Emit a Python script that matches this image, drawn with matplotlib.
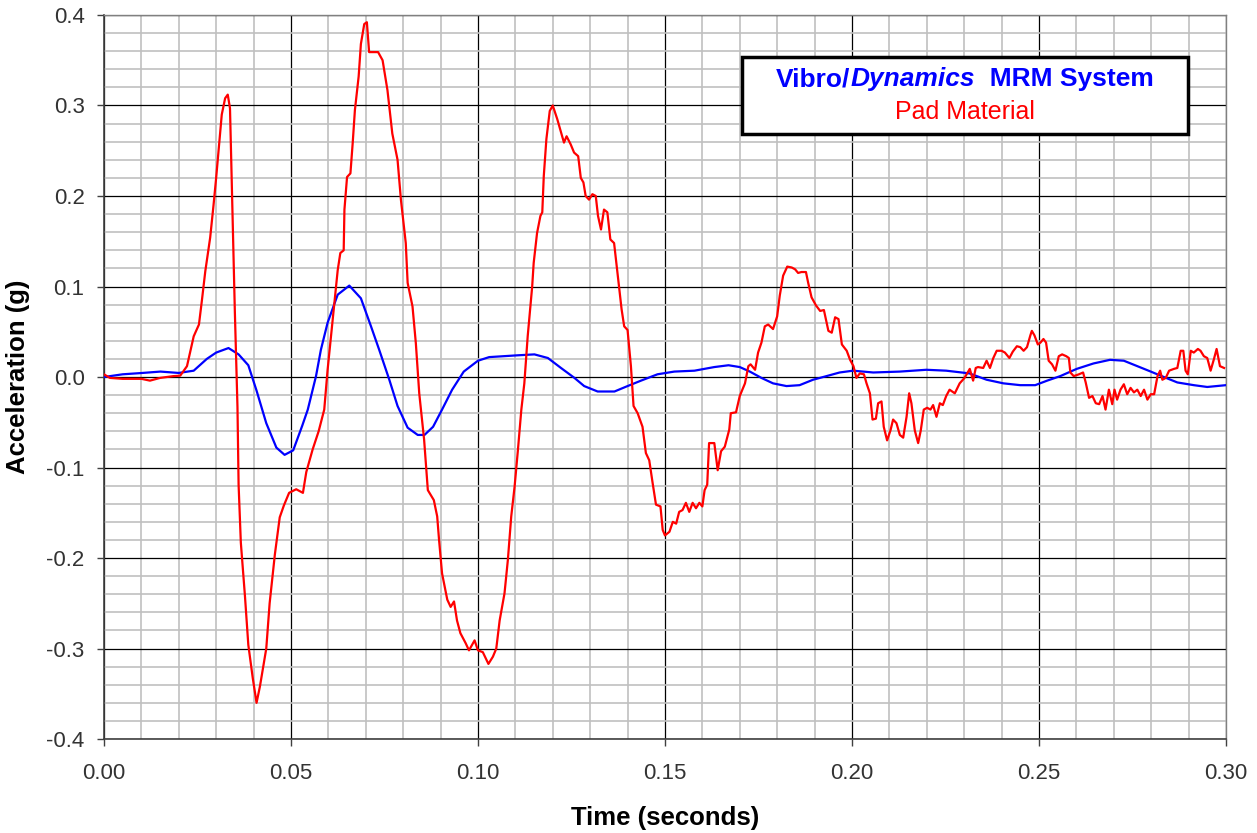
import matplotlib
matplotlib.use("Agg")
import matplotlib.pyplot as plt
from matplotlib.ticker import MultipleLocator, FormatStrFormatter
from matplotlib.offsetbox import TextArea, HPacker, VPacker, AnnotationBbox
from matplotlib.patches import Rectangle

plt.rcParams['font.family'] = ['Liberation Sans', 'DejaVu Sans']
plt.rcParams['axes.unicode_minus'] = False

# Pad Material response (red)
pad_time = [0.0000, 0.0016, 0.0050, 0.0100, 0.0123, 0.0150, 0.0186, 0.0204, 0.0222, 0.0240,
            0.0254, 0.0262, 0.0271, 0.0284, 0.0293, 0.0300, 0.0308, 0.0315, 0.0324, 0.0331,
            0.0337, 0.0344, 0.0350, 0.0357, 0.0360, 0.0366, 0.0377, 0.0386, 0.0398, 0.0408,
            0.0417, 0.0434, 0.0443, 0.0457, 0.0470, 0.0481, 0.0495, 0.0514, 0.0532, 0.0541,
            0.0558, 0.0574, 0.0589, 0.0598, 0.0607, 0.0616, 0.0625, 0.0632, 0.0641, 0.0643,
            0.0650, 0.0659, 0.0665, 0.0671, 0.0681, 0.0687, 0.0696, 0.0703, 0.0709, 0.0733,
            0.0745, 0.0758, 0.0771, 0.0785, 0.0794, 0.0807, 0.0812, 0.0825, 0.0834, 0.0843,
            0.0856, 0.0866, 0.0882, 0.0891, 0.0896, 0.0904, 0.0918, 0.0927, 0.0936, 0.0944,
            0.0953, 0.0967, 0.0976, 0.0991, 0.1000, 0.1013, 0.1028, 0.1040, 0.1049, 0.1058,
            0.1071, 0.1080, 0.1089, 0.1098, 0.1107, 0.1116, 0.1124, 0.1133, 0.1145, 0.1149,
            0.1158, 0.1167, 0.1172, 0.1176, 0.1183, 0.1192, 0.1200, 0.1212, 0.1221, 0.1230,
            0.1237, 0.1248, 0.1257, 0.1268, 0.1275, 0.1282, 0.1288, 0.1297, 0.1306, 0.1315,
            0.1321, 0.1329, 0.1337, 0.1346, 0.1354, 0.1364, 0.1371, 0.1378, 0.1384, 0.1391,
            0.1400, 0.1409, 0.1416, 0.1427, 0.1440, 0.1449, 0.1458, 0.1467, 0.1476, 0.1488,
            0.1494, 0.1500, 0.1512, 0.1521, 0.1530, 0.1538, 0.1547, 0.1556, 0.1565, 0.1574,
            0.1583, 0.1592, 0.1600, 0.1606, 0.1613, 0.1618, 0.1632, 0.1641, 0.1650, 0.1660,
            0.1672, 0.1676, 0.1690, 0.1700, 0.1714, 0.1723, 0.1729, 0.1741, 0.1749, 0.1758,
            0.1767, 0.1776, 0.1789, 0.1800, 0.1807, 0.1816, 0.1827, 0.1839, 0.1848, 0.1856,
            0.1865, 0.1877, 0.1883, 0.1892, 0.1904, 0.1915, 0.1925, 0.1937, 0.1946, 0.1955,
            0.1964, 0.1973, 0.1986, 0.1995, 0.2004, 0.2012, 0.2021, 0.2032, 0.2039, 0.2048,
            0.2055, 0.2064, 0.2070, 0.2079, 0.2085, 0.2094, 0.2103, 0.2110, 0.2119, 0.2128,
            0.2137, 0.2146, 0.2153, 0.2159, 0.2168, 0.2177, 0.2184, 0.2192, 0.2201, 0.2210,
            0.2217, 0.2226, 0.2235, 0.2243, 0.2252, 0.2261, 0.2275, 0.2288, 0.2301, 0.2315,
            0.2324, 0.2331, 0.2337, 0.2351, 0.2360, 0.2369, 0.2378, 0.2387, 0.2400, 0.2409,
            0.2421, 0.2430, 0.2441, 0.2450, 0.2459, 0.2468, 0.2477, 0.2481, 0.2488, 0.2497,
            0.2504, 0.2512, 0.2519, 0.2526, 0.2535, 0.2544, 0.2553, 0.2562, 0.2573, 0.2580,
            0.2584, 0.2593, 0.2607, 0.2618, 0.2625, 0.2634, 0.2643, 0.2652, 0.2661, 0.2670,
            0.2678, 0.2687, 0.2696, 0.2702, 0.2709, 0.2718, 0.2727, 0.2736, 0.2745, 0.2754,
            0.2763, 0.2772, 0.2781, 0.2790, 0.2799, 0.2808, 0.2817, 0.2824, 0.2830, 0.2839,
            0.2848, 0.2861, 0.2870, 0.2879, 0.2886, 0.2892, 0.2898, 0.2906, 0.2914, 0.2925,
            0.2932, 0.2941, 0.2950, 0.2959, 0.2968, 0.2975, 0.2984, 0.2995]
pad_accel = [0.003, -0.001, -0.002, -0.002, -0.004, -0.001, 0.001, 0.0015, 0.012, 0.045,
             0.058, 0.085, 0.117, 0.154, 0.190, 0.220, 0.258, 0.290, 0.308, 0.312,
             0.297, 0.176, 0.072, -0.033, -0.119, -0.183, -0.242, -0.296, -0.333, -0.360,
             -0.342, -0.300, -0.250, -0.196, -0.155, -0.142, -0.128, -0.124, -0.128, -0.105,
             -0.080, -0.060, -0.036, 0.008, 0.045, 0.082, 0.118, 0.137, 0.140, 0.185,
             0.221, 0.225, 0.258, 0.295, 0.332, 0.368, 0.390, 0.392, 0.359, 0.359,
             0.350, 0.317, 0.269, 0.240, 0.196, 0.148, 0.104, 0.078, 0.037, -0.018,
             -0.069, -0.125, -0.136, -0.154, -0.180, -0.217, -0.246, -0.254, -0.248, -0.269,
             -0.283, -0.294, -0.302, -0.291, -0.302, -0.304, -0.317, -0.309, -0.300, -0.269,
             -0.239, -0.202, -0.154, -0.121, -0.080, -0.036, -0.007, 0.045, 0.100, 0.126,
             0.159, 0.178, 0.182, 0.222, 0.263, 0.294, 0.300, 0.285, 0.272, 0.259,
             0.266, 0.257, 0.248, 0.244, 0.220, 0.215, 0.200, 0.196, 0.202, 0.200,
             0.178, 0.163, 0.185, 0.182, 0.152, 0.148, 0.123, 0.097, 0.075, 0.056,
             0.052, 0.012, -0.032, -0.040, -0.055, -0.084, -0.092, -0.117, -0.141, -0.143,
             -0.169, -0.175, -0.171, -0.160, -0.162, -0.149, -0.147, -0.139, -0.149, -0.139,
             -0.145, -0.139, -0.143, -0.125, -0.119, -0.073, -0.073, -0.103, -0.082, -0.077,
             -0.058, -0.040, -0.039, -0.021, -0.007, 0.012, 0.014, 0.008, 0.027, 0.038,
             0.056, 0.058, 0.053, 0.067, 0.090, 0.112, 0.122, 0.121, 0.119, 0.115,
             0.116, 0.116, 0.104, 0.088, 0.079, 0.073, 0.074, 0.051, 0.049, 0.066,
             0.064, 0.036, 0.029, 0.019, 0.012, -0.001, 0.004, 0.003, -0.007, -0.018,
             -0.047, -0.046, -0.029, -0.027, -0.055, -0.070, -0.059, -0.047, -0.051, -0.064,
             -0.067, -0.044, -0.018, -0.029, -0.059, -0.073, -0.059, -0.036, -0.034, -0.036,
             -0.031, -0.044, -0.029, -0.031, -0.021, -0.014, -0.018, -0.007, -0.001, 0.009,
             -0.004, 0.010, 0.011, 0.010, 0.018, 0.010, 0.021, 0.029, 0.029, 0.027,
             0.021, 0.028, 0.034, 0.033, 0.029, 0.033, 0.046, 0.051, 0.046, 0.036,
             0.038, 0.042, 0.038, 0.018, 0.014, 0.007, 0.023, 0.025, 0.023, 0.021,
             0.005, 0.001, 0.003, 0.005, -0.006, -0.023, -0.021, -0.029, -0.030, -0.021,
             -0.036, -0.014, -0.030, -0.014, -0.025, -0.014, -0.008, -0.019, -0.012, -0.017,
             -0.014, -0.021, -0.014, -0.025, -0.019, -0.019, 0.001, 0.007, -0.003, -0.001,
             0.007, 0.009, 0.010, 0.029, 0.029, 0.007, 0.003, 0.029, 0.027, 0.031,
             0.029, 0.023, 0.021, 0.007, 0.020, 0.031, 0.012, 0.010]

# Vibro/Dynamics MRM System response (blue)
mrm_time = [0.0000, 0.0050, 0.0100, 0.0151, 0.0200, 0.0240, 0.0275, 0.0300, 0.0333, 0.0360,
            0.0386, 0.0408, 0.0434, 0.0461, 0.0483, 0.0506, 0.0530, 0.0545, 0.0567, 0.0580,
            0.0598, 0.0625, 0.0656, 0.0687, 0.0714, 0.0736, 0.0763, 0.0785, 0.0812, 0.0839,
            0.0857, 0.0880, 0.0904, 0.0931, 0.0962, 0.1000, 0.1030, 0.1107, 0.1151, 0.1187,
            0.1222, 0.1258, 0.1284, 0.1320, 0.1365, 0.1400, 0.1436, 0.1480, 0.1525, 0.1579,
            0.1632, 0.1670, 0.1700, 0.1727, 0.1758, 0.1789, 0.1825, 0.1860, 0.1896, 0.1932,
            0.1967, 0.2003, 0.2057, 0.2128, 0.2199, 0.2252, 0.2314, 0.2360, 0.2405, 0.2450,
            0.2490, 0.2522, 0.2557, 0.2601, 0.2646, 0.2690, 0.2727, 0.2763, 0.2799, 0.2834,
            0.2870, 0.2914, 0.2950, 0.3000]
mrm_accel = [0.000, 0.003, 0.0044, 0.006, 0.0045, 0.007, 0.020, 0.027, 0.032, 0.025,
             0.013, -0.015, -0.051, -0.078, -0.086, -0.081, -0.054, -0.036, 0.001, 0.030,
             0.060, 0.091, 0.101, 0.087, 0.056, 0.030, -0.003, -0.032, -0.056, -0.064,
             -0.064, -0.055, -0.036, -0.014, 0.006, 0.018, 0.022, 0.024, 0.025, 0.021,
             0.010, -0.001, -0.010, -0.016, -0.016, -0.010, -0.004, 0.003, 0.006, 0.007,
             0.011, 0.013, 0.011, 0.006, -0.001, -0.007, -0.010, -0.009, -0.003, 0.001,
             0.005, 0.007, 0.005, 0.006, 0.008, 0.007, 0.004, -0.003, -0.007, -0.009,
             -0.009, -0.004, 0.001, 0.009, 0.015, 0.019, 0.018, 0.012, 0.006, 0.000,
             -0.006, -0.009, -0.011, -0.009]

x_ticks = [0.00, 0.05, 0.10, 0.15, 0.20, 0.25, 0.30]
y_ticks = [-0.4, -0.3, -0.2, -0.1, 0.0, 0.1, 0.2, 0.3, 0.4]

fig = plt.figure(figsize=(12.57, 8.33), dpi=100)
ax = fig.add_axes([0.0827, 0.1128, 0.8926, 0.8692])

ax.plot(mrm_time, mrm_accel, color='#0000ff', lw=1.6, zorder=3)
ax.plot(pad_time, pad_accel, color='#ff0000', lw=1.6, zorder=4)

ax.set_xlim(0, 0.30)
ax.set_ylim(-0.4, 0.4)
ax.set_xticks(x_ticks)
ax.set_yticks(y_ticks)
ax.xaxis.set_minor_locator(MultipleLocator(0.01))
ax.yaxis.set_minor_locator(MultipleLocator(0.02))
ax.xaxis.set_major_formatter(FormatStrFormatter('%.2f'))
ax.yaxis.set_major_formatter(FormatStrFormatter('%.1f'))

ax.grid(which='minor', color='#c0c0c0', lw=1.2, zorder=0)
ax.grid(which='major', color='black', lw=0.9, zorder=1)
ax.set_axisbelow(True)

ax.tick_params(which='minor', length=0)
ax.tick_params(which='major', direction='out', length=5, width=1, color='#404040',
               labelsize=16, labelcolor='#333333')
ax.tick_params(axis='x', pad=12)
ax.tick_params(axis='y', pad=9)

for side in ['left', 'bottom']:
    ax.spines[side].set_color('#404040')
    ax.spines[side].set_linewidth(1.2)
for side in ['top', 'right']:
    ax.spines[side].set_color('#808080')
    ax.spines[side].set_linewidth(1.0)

ax.set_xlabel('Time (seconds)', fontsize=18.5, fontweight='bold')
ax.set_ylabel('Acceleration (g)', fontsize=18.5, fontweight='bold')
ax.xaxis.set_label_coords(0.5, -0.0925)
ax.yaxis.set_label_coords(-0.066, 0.5)

# title box in upper right
box = Rectangle((0.5686, 0.8356), 0.3975, 0.1064, transform=ax.transAxes,
                facecolor='white', edgecolor='black', lw=2.5, zorder=5, clip_on=False)
ax.add_patch(box)

bold = dict(color='#0000ff', fontsize=19, fontweight='bold')
line1 = HPacker(children=[TextArea('Vibro/', textprops=bold),
                          TextArea('Dynamics', textprops=dict(bold, fontstyle='italic')),
                          TextArea('  MRM System', textprops=bold)],
                align='baseline', pad=0, sep=0)
line2 = TextArea('Pad Material', textprops=dict(color='#ff0000', fontsize=18))
block = VPacker(children=[line1, line2], align='center', pad=0, sep=6)
ab = AnnotationBbox(block, (0.767, 0.889), xycoords='axes fraction',
                    box_alignment=(0.5, 0.5), frameon=False, zorder=6)
ax.add_artist(ab)

fig.savefig('out.png', dpi=100)
